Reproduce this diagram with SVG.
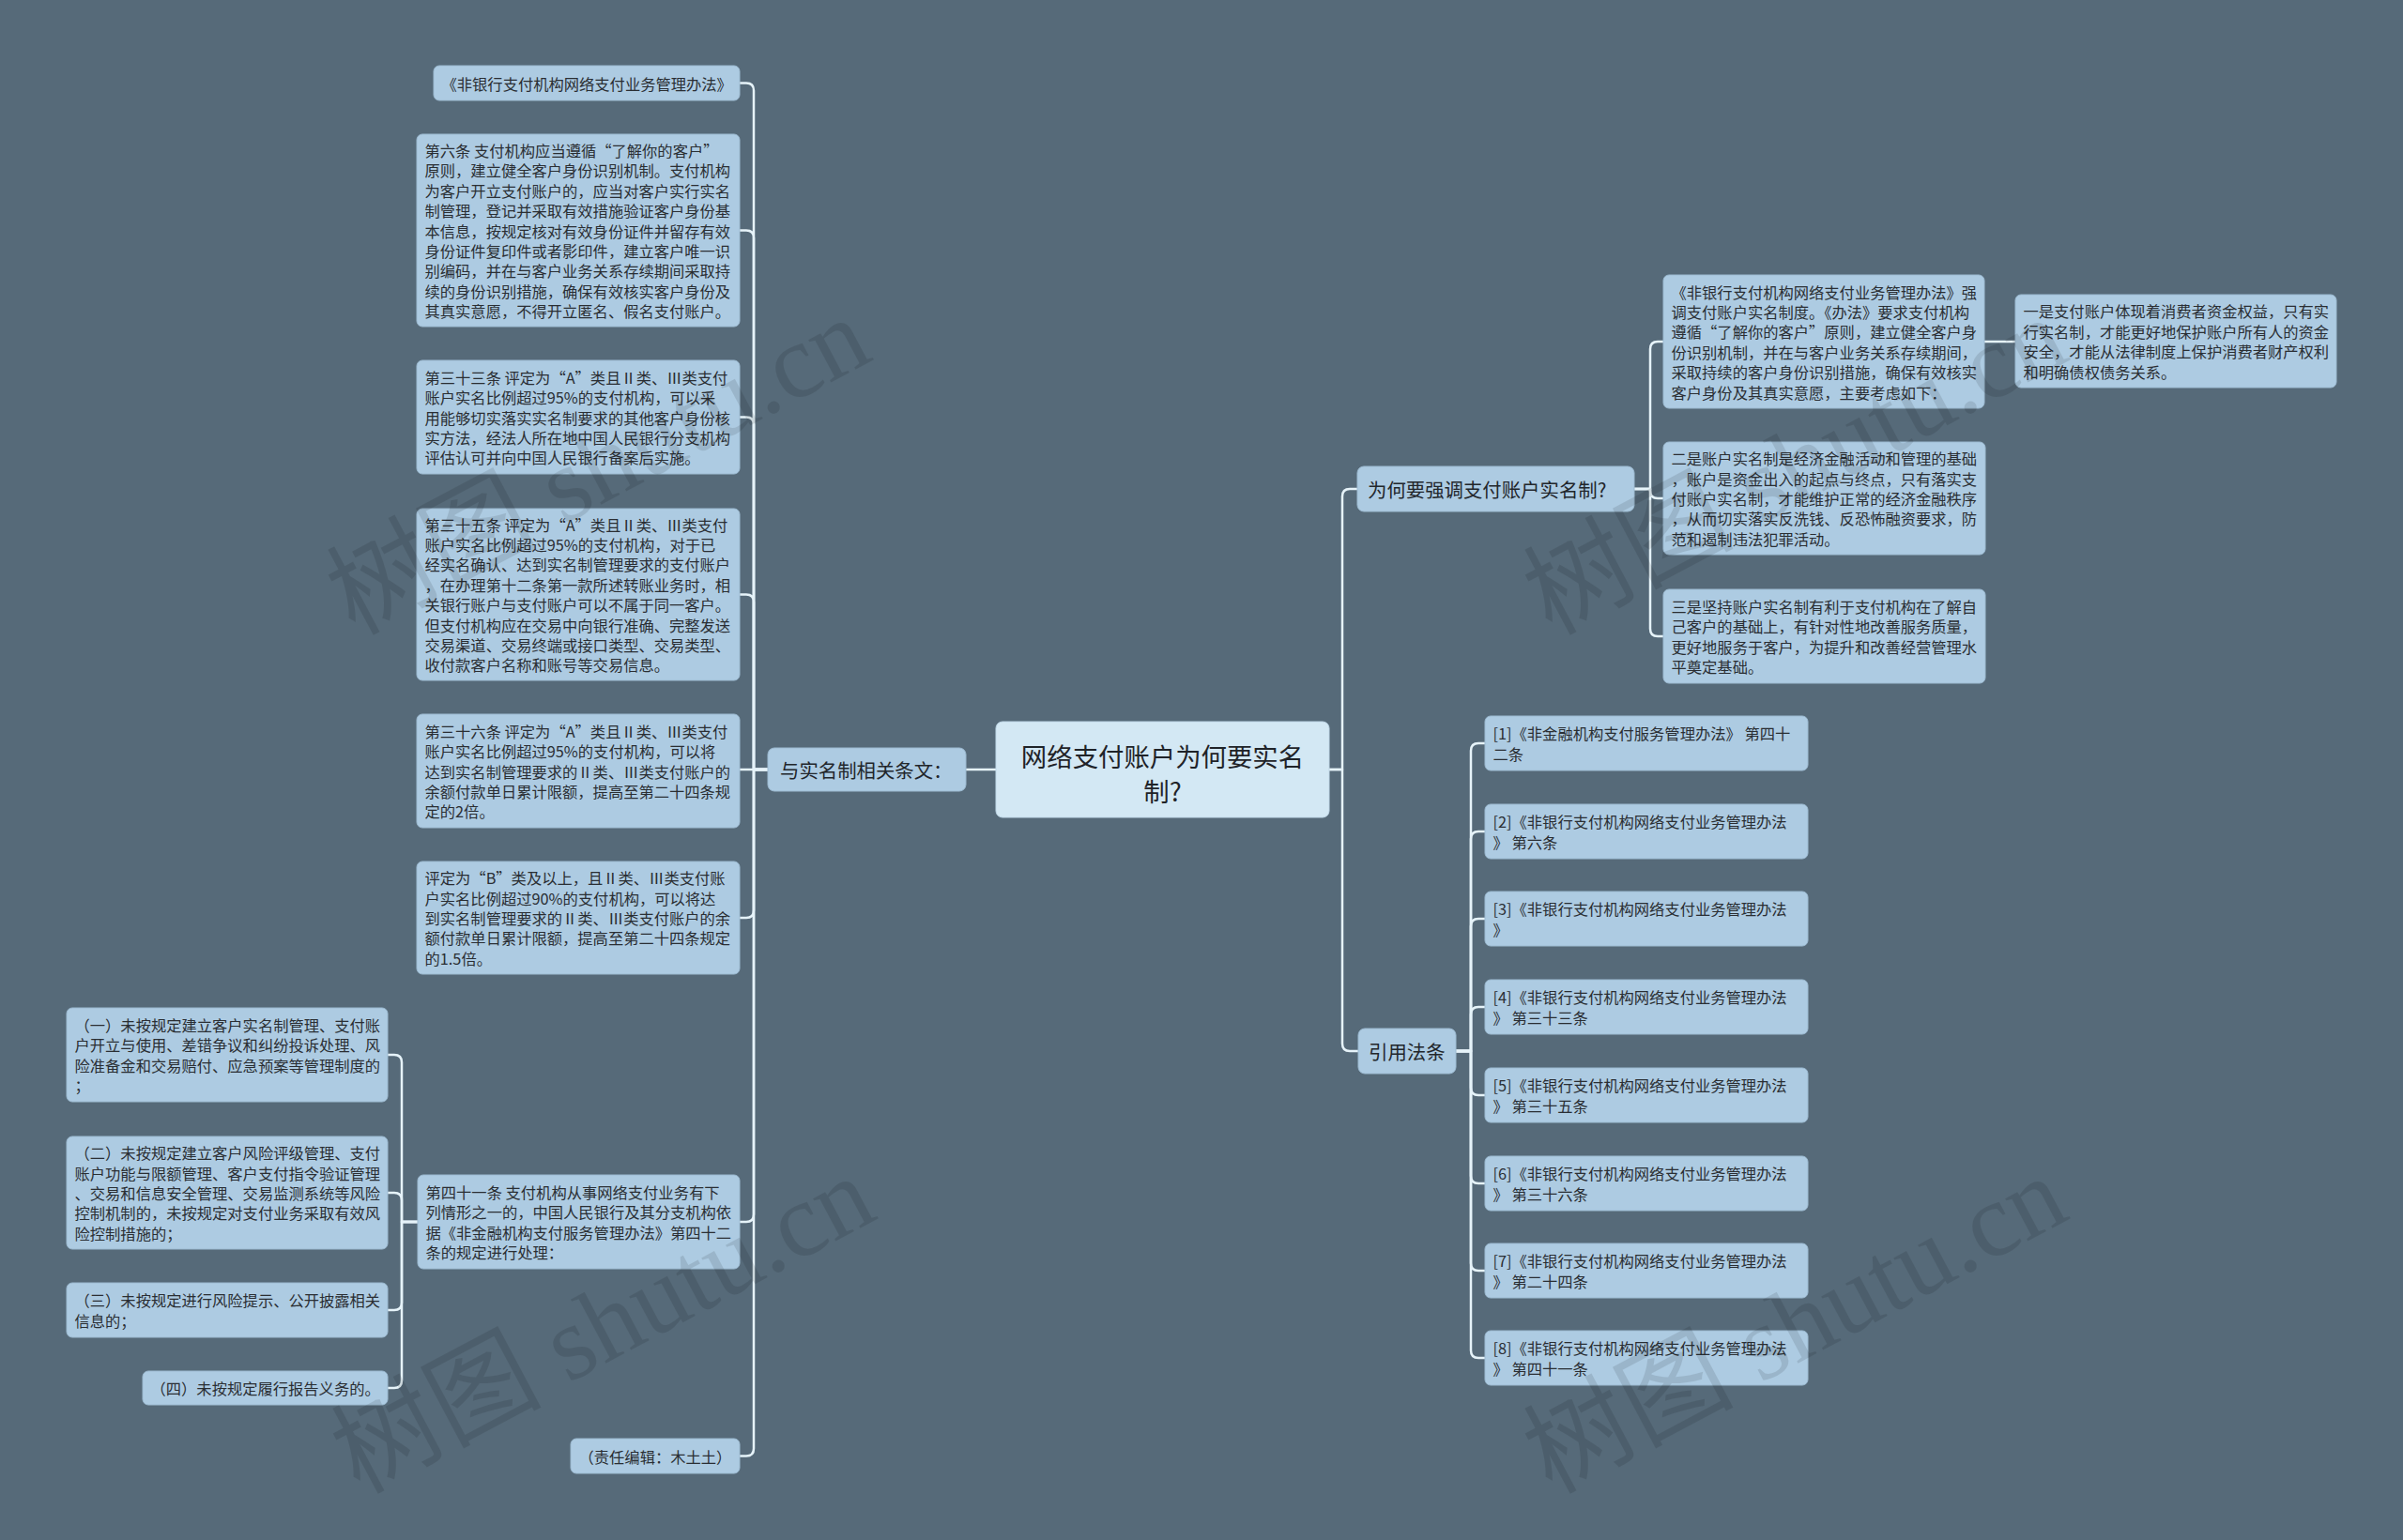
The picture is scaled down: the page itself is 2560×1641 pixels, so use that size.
<svg xmlns="http://www.w3.org/2000/svg" width="2560" height="1641" viewBox="0 0 2560 1641">
<style>
.bg{fill:#566a79}
.n{fill:#adcbe2;stroke:#9dbbd2;stroke-width:1}
.root{fill:#d3e8f4;stroke:#c0d8e8;stroke-width:1}
.t{font-family:"Noto Sans CJK SC","Noto Sans",sans-serif;font-size:16.3px;fill:#2a2e33;dominant-baseline:central}
.tb{font-family:"Noto Sans CJK SC","Noto Sans",sans-serif;font-size:20.4px;fill:#22262b;dominant-baseline:central}
.tr{font-family:"Noto Sans CJK SC","Noto Sans",sans-serif;font-size:27.4px;fill:#1f2328;dominant-baseline:central;text-anchor:middle}
.c{fill:none;stroke:#e6f3f9;stroke-width:2.5;stroke-linecap:round;stroke-linejoin:round}
.wm{font-family:"Liberation Serif","Noto Sans CJK SC",serif;font-size:112px;fill:#000;opacity:0.1}
</style>
<rect class="bg" x="0" y="0" width="2560" height="1641"/>

<g id="connectors">
<path class="c" d="M1061 820 H1029"/>
<path class="c" d="M818 820 H803 V96.5 Q803 88.5 795 88.5 H788"/>
<path class="c" d="M818 820 H803 V253.5 Q803 245.5 795 245.5 H788"/>
<path class="c" d="M818 820 H803 V452.5 Q803 444.5 795 444.5 H788"/>
<path class="c" d="M818 820 H803 V641.5 Q803 633.5 795 633.5 H788"/>
<path class="c" d="M818 820 H788"/>
<path class="c" d="M818 820 H803 V970 Q803 978 795 978 H788"/>
<path class="c" d="M818 820 H803 V1294 Q803 1302 795 1302 H788"/>
<path class="c" d="M818 820 H803 V1543.5 Q803 1551.5 795 1551.5 H788"/>
<path class="c" d="M445 1302 H428 V1132 Q428 1124 420 1124 H413"/>
<path class="c" d="M445 1302 H428 V1279 Q428 1271 420 1271 H413"/>
<path class="c" d="M445 1302 H428 V1388 Q428 1396 420 1396 H413"/>
<path class="c" d="M445 1302 H428 V1471 Q428 1479 420 1479 H413"/>
<path class="c" d="M1416 820 H1430 V529 Q1430 521 1438 521 H1446"/>
<path class="c" d="M1416 820 H1430 V1112 Q1430 1120 1438 1120 H1447"/>
<path class="c" d="M1741 521 H1758 V372 Q1758 364 1766 364 H1772"/>
<path class="c" d="M1741 521 H1758 V523 Q1758 531 1766 531 H1772"/>
<path class="c" d="M1741 521 H1758 V670 Q1758 678 1766 678 H1772"/>
<path class="c" d="M2114 364 H2147"/>
<path class="c" d="M1551 1120 H1567 V800 Q1567 792 1575 792 H1582"/>
<path class="c" d="M1551 1120 H1567 V894 Q1567 886 1575 886 H1582"/>
<path class="c" d="M1551 1120 H1567 V987 Q1567 979 1575 979 H1582"/>
<path class="c" d="M1551 1120 H1567 V1081 Q1567 1073 1575 1073 H1582"/>
<path class="c" d="M1551 1120 H1567 V1159 Q1567 1167 1575 1167 H1582"/>
<path class="c" d="M1551 1120 H1567 V1253 Q1567 1261 1575 1261 H1582"/>
<path class="c" d="M1551 1120 H1567 V1346 Q1567 1354 1575 1354 H1582"/>
<path class="c" d="M1551 1120 H1567 V1439 Q1567 1447 1575 1447 H1582"/>
</g>

<g id="root">
<rect class="root" x="1061" y="769" width="355" height="102" rx="7"/>
<text class="tr" x="1238.5" y="805">网络支付账户为何要实名</text>
<text class="tr" x="1238.5" y="842">制?</text>
</g>

<g id="left-branch">
<rect class="n" x="818" y="797" width="211" height="46" rx="7"/>
<text class="tb" x="831" y="820">与实名制相关条文：</text>
</g>

<g id="l1">
<rect class="n" x="462" y="70" width="326" height="37" rx="6"/>
<text class="t" x="470.5" y="88.5">《非银行支付机构网络支付业务管理办法》</text>
</g>

<g id="l2">
<rect class="n" x="444" y="143" width="344" height="205" rx="6"/>
<text class="t" x="452.5" y="159.9"><tspan x="452.5">第六条 支付机构应当遵循“了解你的客户”</tspan><tspan x="452.5" dy="21.4">原则，建立健全客户身份识别机制。支付机构</tspan><tspan x="452.5" dy="21.4">为客户开立支付账户的，应当对客户实行实名</tspan><tspan x="452.5" dy="21.4">制管理，登记并采取有效措施验证客户身份基</tspan><tspan x="452.5" dy="21.4">本信息，按规定核对有效身份证件并留存有效</tspan><tspan x="452.5" dy="21.4">身份证件复印件或者影印件，建立客户唯一识</tspan><tspan x="452.5" dy="21.4">别编码，并在与客户业务关系存续期间采取持</tspan><tspan x="452.5" dy="21.4">续的身份识别措施，确保有效核实客户身份及</tspan><tspan x="452.5" dy="21.4">其真实意愿，不得开立匿名、假名支付账户。</tspan></text>
</g>

<g id="l3">
<rect class="n" x="444" y="384" width="344" height="121" rx="6"/>
<text class="t" x="452.5" y="401.7"><tspan x="452.5">第三十三条 评定为“A”类且Ⅱ类、Ⅲ类支付</tspan><tspan x="452.5" dy="21.4">账户实名比例超过95%的支付机构，可以采</tspan><tspan x="452.5" dy="21.4">用能够切实落实实名制要求的其他客户身份核</tspan><tspan x="452.5" dy="21.4">实方法，经法人所在地中国人民银行分支机构</tspan><tspan x="452.5" dy="21.4">评估认可并向中国人民银行备案后实施。</tspan></text>
</g>

<g id="l4">
<rect class="n" x="444" y="542" width="344" height="183" rx="6"/>
<text class="t" x="452.5" y="558.6"><tspan x="452.5">第三十五条 评定为“A”类且Ⅱ类、Ⅲ类支付</tspan><tspan x="452.5" dy="21.4">账户实名比例超过95%的支付机构，对于已</tspan><tspan x="452.5" dy="21.4">经实名确认、达到实名制管理要求的支付账户</tspan><tspan x="452.5" dy="21.4">，在办理第十二条第一款所述转账业务时，相</tspan><tspan x="452.5" dy="21.4">关银行账户与支付账户可以不属于同一客户。</tspan><tspan x="452.5" dy="21.4">但支付机构应在交易中向银行准确、完整发送</tspan><tspan x="452.5" dy="21.4">交易渠道、交易终端或接口类型、交易类型、</tspan><tspan x="452.5" dy="21.4">收付款客户名称和账号等交易信息。</tspan></text>
</g>

<g id="l5">
<rect class="n" x="444" y="761" width="344" height="121" rx="6"/>
<text class="t" x="452.5" y="778.7"><tspan x="452.5">第三十六条 评定为“A”类且Ⅱ类、Ⅲ类支付</tspan><tspan x="452.5" dy="21.4">账户实名比例超过95%的支付机构，可以将</tspan><tspan x="452.5" dy="21.4">达到实名制管理要求的Ⅱ类、Ⅲ类支付账户的</tspan><tspan x="452.5" dy="21.4">余额付款单日累计限额，提高至第二十四条规</tspan><tspan x="452.5" dy="21.4">定的2倍。</tspan></text>
</g>

<g id="l6">
<rect class="n" x="444" y="918" width="344" height="120" rx="6"/>
<text class="t" x="452.5" y="935.2"><tspan x="452.5">评定为“B”类及以上，且Ⅱ类、Ⅲ类支付账</tspan><tspan x="452.5" dy="21.4">户实名比例超过90%的支付机构，可以将达</tspan><tspan x="452.5" dy="21.4">到实名制管理要求的Ⅱ类、Ⅲ类支付账户的余</tspan><tspan x="452.5" dy="21.4">额付款单日累计限额，提高至第二十四条规定</tspan><tspan x="452.5" dy="21.4">的1.5倍。</tspan></text>
</g>

<g id="l7">
<rect class="n" x="445" y="1252" width="343" height="100" rx="6"/>
<text class="t" x="453.5" y="1269.9"><tspan x="453.5">第四十一条 支付机构从事网络支付业务有下</tspan><tspan x="453.5" dy="21.4">列情形之一的，中国人民银行及其分支机构依</tspan><tspan x="453.5" dy="21.4">据《非金融机构支付服务管理办法》第四十二</tspan><tspan x="453.5" dy="21.4">条的规定进行处理：</tspan></text>
</g>

<g id="l8">
<rect class="n" x="608" y="1533" width="180" height="37" rx="6"/>
<text class="t" x="616.5" y="1551.5">（责任编辑：木土土）</text>
</g>

<g id="s1">
<rect class="n" x="71" y="1074" width="342" height="100" rx="6"/>
<text class="t" x="79.5" y="1091.9"><tspan x="79.5">（一）未按规定建立客户实名制管理、支付账</tspan><tspan x="79.5" dy="21.4">户开立与使用、差错争议和纠纷投诉处理、风</tspan><tspan x="79.5" dy="21.4">险准备金和交易赔付、应急预案等管理制度的</tspan><tspan x="79.5" dy="21.4">；</tspan></text>
</g>

<g id="s2">
<rect class="n" x="71" y="1211" width="342" height="120" rx="6"/>
<text class="t" x="79.5" y="1228.2"><tspan x="79.5">（二）未按规定建立客户风险评级管理、支付</tspan><tspan x="79.5" dy="21.4">账户功能与限额管理、客户支付指令验证管理</tspan><tspan x="79.5" dy="21.4">、交易和信息安全管理、交易监测系统等风险</tspan><tspan x="79.5" dy="21.4">控制机制的，未按规定对支付业务采取有效风</tspan><tspan x="79.5" dy="21.4">险控制措施的；</tspan></text>
</g>

<g id="s3">
<rect class="n" x="71" y="1367" width="342" height="58" rx="6"/>
<text class="t" x="79.5" y="1385.3"><tspan x="79.5">（三）未按规定进行风险提示、公开披露相关</tspan><tspan x="79.5" dy="21.4">信息的；</tspan></text>
</g>

<g id="s4">
<rect class="n" x="152" y="1461" width="261" height="36" rx="6"/>
<text class="t" x="160.5" y="1479">（四）未按规定履行报告义务的。</text>
</g>

<g id="right-branch-1">
<rect class="n" x="1446" y="497" width="295" height="48" rx="7"/>
<text class="tb" x="1457" y="521">为何要强调支付账户实名制?</text>
</g>

<g id="r1">
<rect class="n" x="1772" y="293" width="342" height="142" rx="6"/>
<text class="t" x="1780.5" y="310.5"><tspan x="1780.5">《非银行支付机构网络支付业务管理办法》强</tspan><tspan x="1780.5" dy="21.4">调支付账户实名制度。《办法》要求支付机构</tspan><tspan x="1780.5" dy="21.4">遵循“了解你的客户”原则，建立健全客户身</tspan><tspan x="1780.5" dy="21.4">份识别机制，并在与客户业务关系存续期间，</tspan><tspan x="1780.5" dy="21.4">采取持续的客户身份识别措施，确保有效核实</tspan><tspan x="1780.5" dy="21.4">客户身份及其真实意愿，主要考虑如下：</tspan></text>
</g>

<g id="r1a">
<rect class="n" x="2147" y="314" width="342" height="99" rx="6"/>
<text class="t" x="2155.5" y="331.4"><tspan x="2155.5">一是支付账户体现着消费者资金权益，只有实</tspan><tspan x="2155.5" dy="21.4">行实名制，才能更好地保护账户所有人的资金</tspan><tspan x="2155.5" dy="21.4">安全，才能从法律制度上保护消费者财产权利</tspan><tspan x="2155.5" dy="21.4">和明确债权债务关系。</tspan></text>
</g>

<g id="r2">
<rect class="n" x="1772" y="471" width="343" height="120" rx="6"/>
<text class="t" x="1780.5" y="488.2"><tspan x="1780.5">二是账户实名制是经济金融活动和管理的基础</tspan><tspan x="1780.5" dy="21.4">，账户是资金出入的起点与终点，只有落实支</tspan><tspan x="1780.5" dy="21.4">付账户实名制，才能维护正常的经济金融秩序</tspan><tspan x="1780.5" dy="21.4">，从而切实落实反洗钱、反恐怖融资要求，防</tspan><tspan x="1780.5" dy="21.4">范和遏制违法犯罪活动。</tspan></text>
</g>

<g id="r3">
<rect class="n" x="1772" y="628" width="343" height="100" rx="6"/>
<text class="t" x="1780.5" y="645.9"><tspan x="1780.5">三是坚持账户实名制有利于支付机构在了解自</tspan><tspan x="1780.5" dy="21.4">己客户的基础上，有针对性地改善服务质量，</tspan><tspan x="1780.5" dy="21.4">更好地服务于客户，为提升和改善经营管理水</tspan><tspan x="1780.5" dy="21.4">平奠定基础。</tspan></text>
</g>

<g id="right-branch-2">
<rect class="n" x="1447" y="1096" width="104" height="48" rx="7"/>
<text class="tb" x="1458" y="1120">引用法条</text>
</g>

<g id="ref1">
<rect class="n" x="1582" y="763" width="344" height="58" rx="6"/>
<text class="t" x="1590.5" y="781.3"><tspan x="1590.5">[1]《非金融机构支付服务管理办法》 第四十</tspan><tspan x="1590.5" dy="21.4">二条</tspan></text>
</g>
<g id="ref2">
<rect class="n" x="1582" y="857" width="344" height="58" rx="6"/>
<text class="t" x="1590.5" y="875.3"><tspan x="1590.5">[2]《非银行支付机构网络支付业务管理办法</tspan><tspan x="1590.5" dy="21.4">》 第六条</tspan></text>
</g>
<g id="ref3">
<rect class="n" x="1582" y="950" width="344" height="58" rx="6"/>
<text class="t" x="1590.5" y="968.3"><tspan x="1590.5">[3]《非银行支付机构网络支付业务管理办法</tspan><tspan x="1590.5" dy="21.4">》</tspan></text>
</g>
<g id="ref4">
<rect class="n" x="1582" y="1044" width="344" height="58" rx="6"/>
<text class="t" x="1590.5" y="1062.3"><tspan x="1590.5">[4]《非银行支付机构网络支付业务管理办法</tspan><tspan x="1590.5" dy="21.4">》 第三十三条</tspan></text>
</g>
<g id="ref5">
<rect class="n" x="1582" y="1138" width="344" height="58" rx="6"/>
<text class="t" x="1590.5" y="1156.3"><tspan x="1590.5">[5]《非银行支付机构网络支付业务管理办法</tspan><tspan x="1590.5" dy="21.4">》 第三十五条</tspan></text>
</g>
<g id="ref6">
<rect class="n" x="1582" y="1232" width="344" height="58" rx="6"/>
<text class="t" x="1590.5" y="1250.3"><tspan x="1590.5">[6]《非银行支付机构网络支付业务管理办法</tspan><tspan x="1590.5" dy="21.4">》 第三十六条</tspan></text>
</g>
<g id="ref7">
<rect class="n" x="1582" y="1325" width="344" height="58" rx="6"/>
<text class="t" x="1590.5" y="1343.3"><tspan x="1590.5">[7]《非银行支付机构网络支付业务管理办法</tspan><tspan x="1590.5" dy="21.4">》 第二十四条</tspan></text>
</g>
<g id="ref8">
<rect class="n" x="1582" y="1418" width="344" height="58" rx="6"/>
<text class="t" x="1590.5" y="1436.3"><tspan x="1590.5">[8]《非银行支付机构网络支付业务管理办法</tspan><tspan x="1590.5" dy="21.4">》 第四十一条</tspan></text>
</g>

<g id="watermarks">
<text class="wm" text-anchor="middle" transform="translate(655 530) rotate(-28)">树图 shutu.cn</text>
<text class="wm" text-anchor="middle" transform="translate(1930 530) rotate(-28)">树图 shutu.cn</text>
<text class="wm" text-anchor="middle" transform="translate(660 1445) rotate(-28)">树图 shutu.cn</text>
<text class="wm" text-anchor="middle" transform="translate(1930 1445) rotate(-28)">树图 shutu.cn</text>
</g>
</svg>
